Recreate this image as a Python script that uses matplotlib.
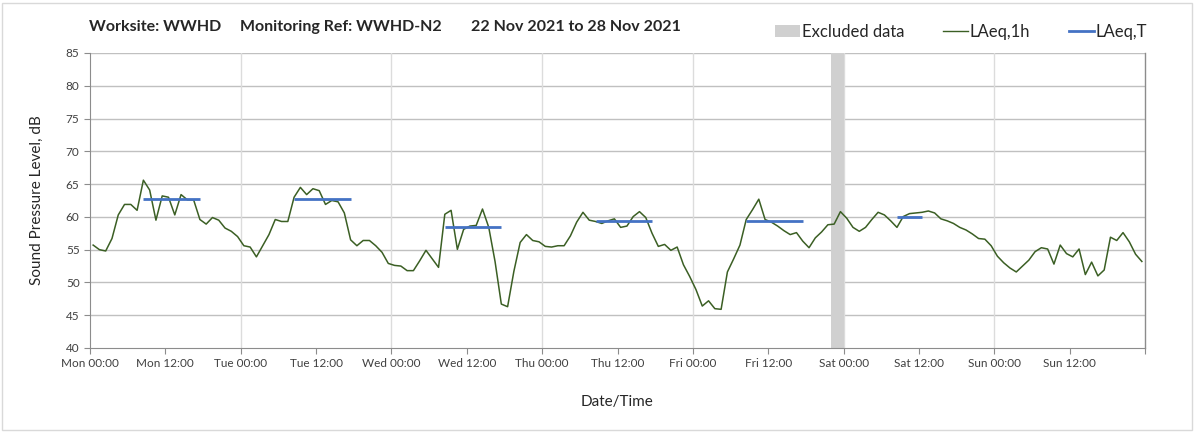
import numpy as np
import matplotlib
matplotlib.use("Agg")
import matplotlib.pyplot as plt
from matplotlib.lines import Line2D
from matplotlib.patches import Patch, Rectangle

# ---------------- data ----------------
day_names = ["Mon", "Tue", "Wed", "Thu", "Fri", "Sat", "Sun"]
tick_labels = [f"{d} {t}" for d in day_names for t in ("00:00", "12:00")]

# hourly LAeq,1h values (hour-of-week periods, Mon 00:00 onward)
laeq_1h = [
    55.7, 55.0, 54.8, 56.7, 60.3, 61.9, 61.9, 61.0, 65.6, 64.1, 59.5, 63.2,
    63.0, 60.3, 63.4, 62.6, 62.6, 59.6, 58.9, 59.9, 59.5, 58.3, 57.8, 57.0,
    55.6, 55.4, 53.9, 55.6, 57.3, 59.6, 59.3, 59.3, 63.0, 64.5, 63.4, 64.3,
    64.0, 61.9, 62.5, 62.3, 60.6, 56.5, 55.6, 56.4, 56.4, 55.6, 54.6, 52.9,
    52.6, 52.5, 51.8, 51.8, 53.3, 54.9, 53.6, 52.3, 60.4, 61.0, 55.05, 58.1,
    58.6, 58.7, 61.2, 58.4, 53.2, 46.7, 46.3, 51.7, 56.1, 57.3, 56.4, 56.2,
    55.5, 55.4, 55.6, 55.6, 57.1, 59.2, 60.7, 59.5, 59.3, 59.0, 59.4, 59.7,
    58.4, 58.6, 60.05, 60.8, 59.9, 57.5, 55.5, 55.8, 54.9, 55.4, 52.7, 50.9,
    48.9, 46.4, 47.2, 46.0, 45.9, 51.6, 53.6, 55.7, 59.6, 61.1, 62.7, 59.6,
    59.2, 58.6, 57.9, 57.3, 57.6, 56.3, 55.3, 56.8, 57.7, 58.8, 58.9, 60.8,
    59.8, 58.4, 57.8, 58.4, 59.6, 60.7, 60.3, 59.4, 58.4, 60.05, 60.5, 60.6,
    60.7, 60.9, 60.6, 59.7, 59.4, 59.0, 58.4, 58.0, 57.4, 56.7, 56.6, 55.6,
    54.0, 53.0, 52.2, 51.6, 52.5, 53.4, 54.7, 55.3, 55.1, 52.8, 55.7, 54.4,
    53.9, 55.1, 51.2, 53.1, 51.0, 51.9, 56.9, 56.4, 57.6, 56.2, 54.3, 53.2,
]

# LAeq,T periods: start hour, end hour, level
laeqT_start = [8, 32, 56, 80, 104, 128]
laeqT_end = [18, 42, 66, 90, 114, 133]
laeqT_value = [62.75, 62.75, 58.4, 59.4, 59.4, 60.05]

excluded_start = [118]
excluded_end = [120]

# ---------------- plot ----------------
W, H = 1203, 432
fig = plt.figure(figsize=(W / 100, H / 100), dpi=100)
fig.patch.set_facecolor("white")
plt.rcParams["font.family"] = ["Lato", "DejaVu Sans"]

ax = fig.add_axes([90 / W, 1 - 348 / H, (1145 - 90) / W, (348 - 53) / H])

hours = np.arange(len(laeq_1h)) + 0.5

for s, e in zip(excluded_start, excluded_end):
    ax.axvspan(s, e, color="#d0d0d0", lw=0, zorder=1)

green = "#3b5f24"
blue = "#4472c4"
ax.plot(hours, laeq_1h, color=green, lw=1.1, zorder=3)
for s, e, v in zip(laeqT_start, laeqT_end, laeqT_value):
    ax.plot([s + 0.5, e - 0.5], [v, v], color=blue, lw=2.0, zorder=4,
            solid_capstyle="butt")

ax.set_xlim(0, 168)
ax.set_ylim(40, 85)
ax.set_xticks(np.arange(0, 169, 12))
ax.set_xticklabels(tick_labels + [""])
ax.set_yticks(np.arange(40, 86, 5))

# gridlines
for y in np.arange(45, 86, 5):
    ax.axhline(y, color="#c0c0c0", lw=1.0, zorder=0)
for x in np.arange(24, 168, 24):
    ax.axvline(x, color="#dcdcdc", lw=1.0, zorder=0)

for side in ("top", "right"):
    ax.spines[side].set_visible(False)
ax.spines["left"].set_color("#8c8c8c")
ax.spines["bottom"].set_color("#8c8c8c")
ax.plot([168, 168], [40, 85], color="#8c8c8c", lw=1.0, clip_on=False, zorder=2)
ax.tick_params(axis="both", direction="out", length=4, color="#8c8c8c",
               labelsize=8.5, labelcolor="#404040")
ax.tick_params(axis="x", pad=3)

ax.set_ylabel("Sound Pressure Level, dB", fontsize=11, color="#262626",
              labelpad=16)
ax.set_xlabel("Date/Time", fontsize=11, color="#262626", labelpad=19)

# title pieces
ty = 1 - 27 / H
fig.text(89 / W, ty, "Worksite: WWHD", fontsize=11.5, fontweight="bold",
         va="center", ha="left", color="#262626")
fig.text(240 / W, ty, "Monitoring Ref: WWHD-N2", fontsize=11.5,
         fontweight="bold", va="center", ha="left", color="#262626")
fig.text(471 / W, ty, "22 Nov 2021 to 28 Nov 2021", fontsize=11.5,
         fontweight="bold", va="center", ha="left", color="#262626")

handles = [
    Patch(facecolor="#d0d0d0", edgecolor="none"),
    Line2D([], [], color=green, lw=1.0),
    Line2D([], [], color=blue, lw=2.0),
]
fig.legend(handles, ["Excluded data", "LAeq,1h", "LAeq,T"], ncol=3,
           loc="center", bbox_to_anchor=(961 / W, 1 - 32 / H), frameon=False,
           fontsize=12, handlelength=1.5, handletextpad=0.12,
           columnspacing=2.3, labelcolor="#262626")

# outer chart border
fig.add_artist(Rectangle((2 / W, 2 / H), 1190 / W, 427 / H,
                         transform=fig.transFigure, fill=False,
                         edgecolor="#d9d9d9", lw=1.0))

fig.savefig("out.png", dpi=100)
